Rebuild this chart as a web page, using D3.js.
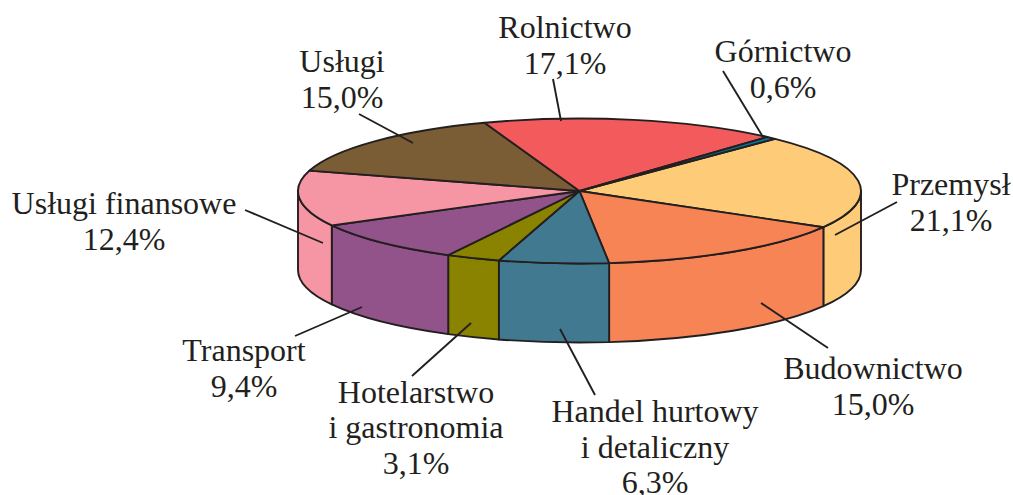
<!DOCTYPE html>
<html lang="pl"><head><meta charset="utf-8">
<style>html,body{margin:0;padding:0;background:#fff;overflow:hidden}svg{display:block}</style>
<script src="https://cdn.jsdelivr.net/npm/d3@7/dist/d3.min.js"></script></head>
<body><svg id="c" width="1013" height="495"></svg>
<script>
// Data
const categories = ["Przemysł","Budownictwo","Handel hurtowy i detaliczny","Hotelarstwo i gastronomia","Transport","Usługi finansowe","Usługi","Rolnictwo","Górnictwo"];
const shares = [21.1,15.0,6.3,3.1,9.4,12.4,15.0,17.1,0.6];
const colors = ["#fecb78","#f78455","#417a90","#8a8300","#92528a","#f695a3","#7a5c35","#f35a5c","#067a9c"];
// Label text lines
const labelLines = [["Przemysł"],["Budownictwo"],["Handel hurtowy","i detaliczny"],["Hotelarstwo","i gastronomia"],["Transport"],["Usługi finansowe"],["Usługi"],["Rolnictwo"],["Górnictwo"]];
// Layout (annotation positions)
const labelAnchor = [[951,195],[873,379],[655,422],[416,402.5],[244,361],[124,214],[342,72],[565,38],[783,62]];
const leaders = [[[897,202],[835,235]],[[828,348],[761,303]],[[595,395],[560,329]],[[412,376],[471,323]],[[295,336],[362,307]],[[245,210],[323,243]],[[359,114],[413,143]],[[553,79],[561,121]],[[723,71],[763,137]]];
const cx=579.5, cy=191, rx=281.5, ry=72.5, depth=79;
const stroke="#231f20", lineWidth=1.9, lineStep=35.5;

const svg=d3.select("#c");
const pie=d3.pie().value(d=>d).sort(null).startAngle(44*Math.PI/180).endAngle((44+360)*Math.PI/180);
const arcs=pie(shares);
const xs=d3.scaleLinear().domain([-1,1]).range([cx-rx,cx+rx]);
const ys=d3.scaleLinear().domain([-1,1]).range([cy-ry,cy+ry]);
const px=a=>xs(Math.sin(a)), py=a=>ys(-Math.cos(a));
function rim(a0,a1,dy){
  const large=(a1-a0)>Math.PI?1:0;
  return `${px(a0)},${py(a0)+dy} A${rx},${ry} 0 ${large} 1 ${px(a1)},${py(a1)+dy}`;
}
function rimRev(a0,a1,dy){
  const large=(a1-a0)>Math.PI?1:0;
  return `${px(a1)},${py(a1)+dy} A${rx},${ry} 0 ${large} 0 ${px(a0)},${py(a0)+dy}`;
}
const R=Math.PI/2, L=3*Math.PI/2;
const walls=arcs.map((d,i)=>{
  const a0=Math.max(d.startAngle,R), a1=Math.min(d.endAngle,L);
  return a1>a0?{a0,a1,i}:null;
}).filter(Boolean);
svg.append("g").selectAll("path").data(walls).join("path")
  .attr("d",d=>`M${rim(d.a0,d.a1,0)} L${rimRev(d.a0,d.a1,depth)} Z`)
  .attr("fill",d=>colors[d.i]).attr("stroke",stroke).attr("stroke-width",lineWidth).attr("stroke-linejoin","round");
svg.append("g").selectAll("path").data(arcs).join("path")
  .attr("d",d=>`M${cx},${cy} L${rim(d.startAngle,d.endAngle,0)} Z`)
  .attr("fill",(d,i)=>colors[i]).attr("stroke",stroke).attr("stroke-width",lineWidth).attr("stroke-linejoin","round");
svg.append("g").selectAll("line").data(leaders).join("line")
  .attr("x1",d=>d[0][0]).attr("y1",d=>d[0][1]).attr("x2",d=>d[1][0]).attr("y2",d=>d[1][1])
  .attr("stroke",stroke).attr("stroke-width",lineWidth);
const fmt=v=>v.toFixed(1).replace(".",",")+"%";
const t=svg.append("g").attr("font-family","'Liberation Serif',serif").attr("font-size",32).attr("fill",stroke).attr("text-anchor","middle");
categories.forEach((c,i)=>{
  const lines=[...labelLines[i],fmt(shares[i])];
  const txt=t.append("text").attr("x",labelAnchor[i][0]).attr("y",labelAnchor[i][1]);
  lines.forEach((s,j)=>txt.append("tspan").attr("x",labelAnchor[i][0]).attr("dy",j?lineStep:0).text(s));
});
</script></body></html>
